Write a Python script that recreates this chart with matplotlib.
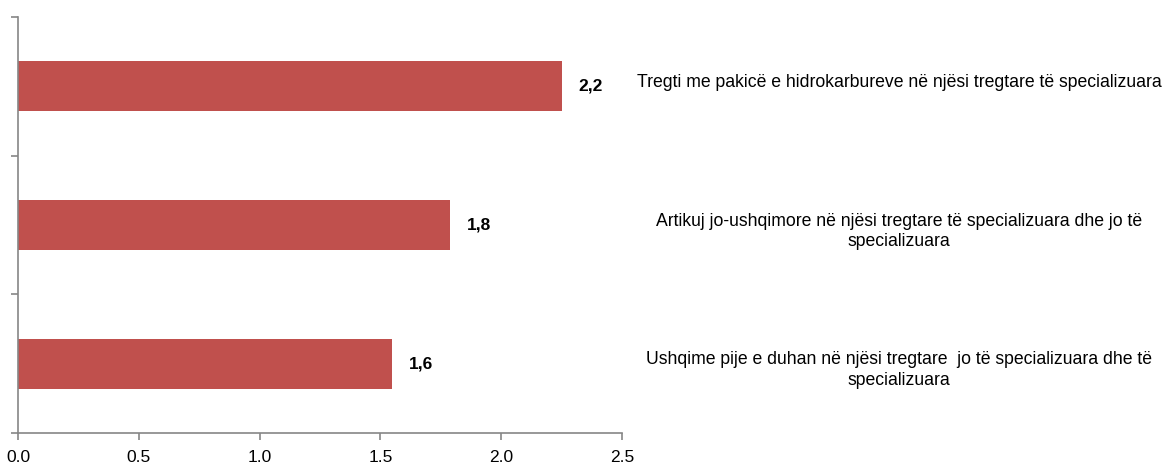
import matplotlib
matplotlib.use('Agg')
import matplotlib.pyplot as plt
import matplotlib.transforms as mtrans
from matplotlib import font_manager

# data
categories = ['Ushqime pije e duhan në njësi tregtare  jo të specializuara dhe të\nspecializuara',
              'Artikuj jo-ushqimore në njësi tregtare të specializuara dhe jo të\nspecializuara',
              'Tregti me pakicë e hidrokarbureve në njësi tregtare të specializuara']
values = [1.55, 1.79, 2.25]
value_labels = ['1,6', '1,8', '2,2']
xticks = [0.0, 0.5, 1.0, 1.5, 2.0, 2.5]

names = set(f.name for f in font_manager.fontManager.ttflist)
fam = 'Liberation Sans Narrow' if 'Liberation Sans Narrow' in names else 'Liberation Sans'
plt.rcParams['font.family'] = [fam, 'DejaVu Sans']

fig = plt.figure(figsize=(11.65, 4.72), dpi=100)
ax = fig.add_axes([0.0155, 0.0826, 0.5184, 0.8814])

y = range(len(values))
ax.barh(y, values, height=0.36, color='#C0504D')
ax.set_xlim(0, 2.5)
ax.set_ylim(-0.5, 2.5)
ax.set_xticks(xticks)
ax.set_xticklabels(['%.1f' % t for t in xticks], fontsize=12.5)
ax.set_yticks([-0.5, 0.5, 1.5, 2.5])
ax.set_yticklabels([])

for s in ['top', 'right']:
    ax.spines[s].set_visible(False)
for s in ['left', 'bottom']:
    ax.spines[s].set_color('#868686')
    ax.spines[s].set_linewidth(1.2)
ax.tick_params(axis='both', direction='out', color='#868686', length=5, width=1.2)
ax.tick_params(axis='x', pad=7)

for i, v in enumerate(values):
    ax.annotate(value_labels[i], (v, i), xytext=(12, 0), textcoords='offset points',
                ha='left', va='center', fontsize=12.5, fontweight='bold')

tr = mtrans.blended_transform_factory(fig.transFigure, ax.transData)
for i, c in enumerate(categories):
    ax.text(899 / 1165, i + 0.09, c, transform=tr, ha='center', va='top',
            fontsize=12.7, linespacing=1.3, clip_on=False)

fig.savefig('out.png', dpi=100)
